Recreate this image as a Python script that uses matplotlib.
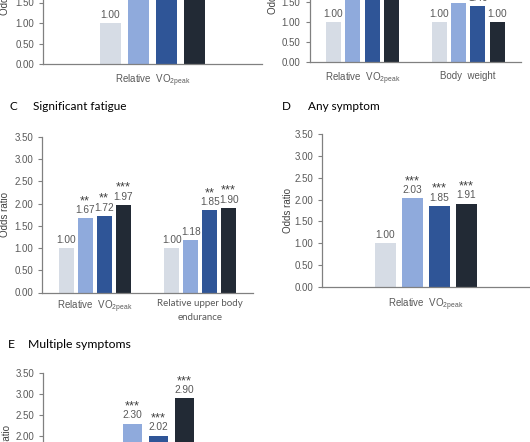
import matplotlib
matplotlib.use("Agg")
import matplotlib.pyplot as plt

W, H = 530, 442
fig = plt.figure(figsize=(W / 100, H / 100), dpi=100)

colors = ["#d6dce5", "#8faadc", "#2f5597", "#222a35"]
GRAY = "#595959"
AXC = "#808080"

VO2 = r"Relative  VO$_{\mathregular{2peak}}$"

# ---- data ----
A_cats = [VO2]
A_vals = [[1.00, 1.80, 1.85, 1.95]]
A_stars = [["", "", "", ""]]

B_cats = [VO2, "Body  weight"]
B_vals = [[1.00, 1.80, 1.85, 1.95], [1.00, 1.47, 1.40, 1.00]]
B_stars = [["", "", "", ""], ["", "", "", ""]]

C_cats = [VO2, "Relative upper body\nendurance"]
C_vals = [[1.00, 1.67, 1.72, 1.97], [1.00, 1.18, 1.85, 1.90]]
C_stars = [["", "**", "**", "***"], ["", "", "**", "***"]]

D_cats = [VO2]
D_vals = [[1.00, 2.03, 1.85, 1.91]]
D_stars = [["", "***", "***", "***"]]

E_cats = [VO2]
E_vals = [[1.00, 2.30, 2.02, 2.90]]
E_stars = [["", "***", "***", "***"]]

yticks = [0, 0.5, 1.0, 1.5, 2.0, 2.5, 3.0, 3.5]


def panel(left, right, top, bottom, cats, vals, stars, xlim, step, width,
          pad, ylab_y, cat_fonts, ylab_x):
    ax = fig.add_axes([left / W, 1 - bottom / H, (right - left) / W, (bottom - top) / H])
    for g, (gv, gs) in enumerate(zip(vals, stars)):
        for i, (v, s) in enumerate(zip(gv, gs)):
            x = g + (i - 1.5) * step
            ax.bar(x, v, width=width, color=colors[i], zorder=2)
            ax.annotate(f"{v:.2f}", (x, v), xytext=(0, 3.8), textcoords="offset points",
                        ha="center", va="baseline", fontsize=7.3, color=GRAY,
                        family="Liberation Sans", annotation_clip=False)
            if s:
                ax.annotate(s, (x, v), xytext=(0, 10.3), textcoords="offset points",
                            ha="center", va="baseline", fontsize=9.3, color="#404040",
                            family="Liberation Sans", annotation_clip=False)
    ax.set_xlim(*xlim)
    ax.set_ylim(0, 3.5)
    ax.set_yticks(yticks)
    ax.set_yticklabels([f"{t:.2f}" for t in yticks], fontsize=7, color=GRAY,
                       family="Liberation Sans")
    ax.set_xticks(range(len(cats)))
    ax.set_xticklabels(cats, fontsize=7, color=GRAY, linespacing=1.75)
    for lab, f in zip(ax.get_xticklabels(), cat_fonts):
        lab.set_family(f)
    ax.tick_params(axis="x", length=0, pad=pad)
    ax.tick_params(axis="y", length=3, width=0.8, color=AXC, direction="out", pad=3.5)
    for sp in ["top", "right"]:
        ax.spines[sp].set_visible(False)
    for sp in ["left", "bottom"]:
        ax.spines[sp].set_color(AXC)
        ax.spines[sp].set_linewidth(0.9)
    ax.set_ylabel("Odds ratio", fontsize=7, color="#404040", family="Liberation Sans")
    ax.yaxis.set_label_coords(ylab_x, ylab_y)
    ax.patch.set_alpha(0)
    return ax


# A (top-left, cropped)
panel(43, 262, -79.5, 64, A_cats, A_vals, A_stars, (-0.5, 0.5), 0.128, 0.10,
      6.5, 0.5, ["Liberation Sans"], -0.15)
# B (top-right, cropped)
panel(309.5, 521, -78, 62, B_cats, B_vals, B_stars, (-0.5, 1.5), 0.183, 0.142,
      6.5, 0.5, ["Liberation Sans", "Liberation Sans"], -0.15)
# C
panel(42, 253, 137, 292.5, C_cats, C_vals, C_stars, (-0.5, 1.5), 0.18, 0.142,
      4.5, 0.5, ["Liberation Sans", "Lato"], -0.15)
# D
panel(322, 530, 134, 287, D_cats, D_vals, D_stars, (-0.5, 0.5), 0.13, 0.10,
      7, 0.5, ["Liberation Sans"], -0.14)
# E (bottom, cropped)
panel(43, 248, 373, 521, E_cats, E_vals, E_stars, (-0.5, 0.5), 0.127, 0.095,
      7, 0.5, ["Liberation Sans"], -0.15)


def title(xl, xt, y, letter, text, fs=8.5):
    fig.text(xl / W, 1 - y / H, letter, fontsize=fs, family="Lato", va="center", ha="left")
    fig.text(xt / W, 1 - y / H, text, fontsize=fs, family="Lato", va="center", ha="left")


title(9, 33, 107, "C", "Significant fatigue")
title(282, 308, 107, "D", "Any symptom")
title(8, 28, 345, "E", "Multiple symptoms", fs=8.8)

fig.savefig("out.png", dpi=100)
